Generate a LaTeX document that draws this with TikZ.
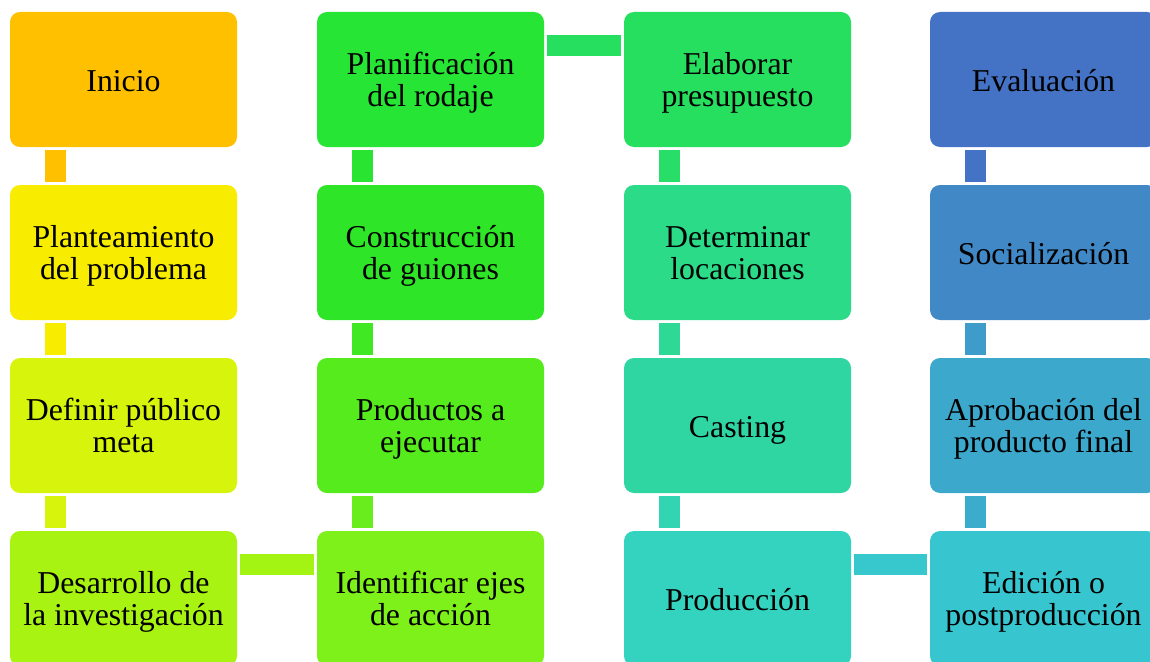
\documentclass[tikz,border=0pt]{standalone}
\usepackage{fontspec}
\setmainfont{Liberation Serif}
\definecolor{cA}{HTML}{FFC000}
\definecolor{cB}{HTML}{F8EC00}
\definecolor{cC}{HTML}{D7F50C}
\definecolor{cD}{HTML}{A9F312}
\definecolor{cE}{HTML}{7EF01A}
\definecolor{cF}{HTML}{55EB1D}
\definecolor{cG}{HTML}{2EE627}
\definecolor{cH}{HTML}{27E535}
\definecolor{cI}{HTML}{27DF5F}
\definecolor{cJ}{HTML}{2BDB88}
\definecolor{cK}{HTML}{30D6A2}
\definecolor{cL}{HTML}{33D3BF}
\definecolor{cM}{HTML}{37C6CF}
\definecolor{cN}{HTML}{3CA8CC}
\definecolor{cO}{HTML}{4189C6}
\definecolor{cP}{HTML}{4472C4}
\newcommand\sst{\rule[-7pt]{0pt}{30pt}}
\tikzset{
  stepbox/.style={rectangle, rounded corners=10pt, minimum width=227pt, minimum height=135pt,
    inner sep=0pt},
  steptext/.style={inner sep=0pt, align=center, text=black,
    font=\fontsize{31.8}{31.8}\selectfont},
  steptexttwo/.style={steptext, yshift=-3pt},
  steptextone/.style={steptext, yshift=-3.5pt},
  bar/.style={line width=21pt, line cap=butt}
}
% two-line step
\newcommand\steptwo[5]{\node[stepbox, fill=#2, label={[steptexttwo]center:{\sst #4\\\sst #5}}] (#1) at #3 {};}
% one-line step
\newcommand\stepone[4]{\node[stepbox, fill=#2, label={[steptextone]center:{\sst #4}}] (#1) at #3 {};}
\begin{document}
\begin{tikzpicture}[x=1pt,y=-1pt]
\useasboundingbox (0,0) rectangle (1150,661);
\clip (0,0) rectangle (1150,661);
% column 1
\stepone{n1}{cA}{(123.5,79.5)}{Inicio}
\steptwo{n2}{cB}{(123.5,252.5)}{Planteamiento}{del problema}
\steptwo{n3}{cC}{(123.5,425.5)}{Definir público}{meta}
\steptwo{n4}{cD}{(123.5,598.5)}{Desarrollo de}{la investigación}
% column 2
\steptwo{n5}{cE}{(430.5,598.5)}{Identificar ejes}{de acción}
\steptwo{n6}{cF}{(430.5,425.5)}{Productos a}{ejecutar}
\steptwo{n7}{cG}{(430.5,252.5)}{Construcción}{de guiones}
\steptwo{n8}{cH}{(430.5,79.5)}{Planificación}{del rodaje}
% column 3
\steptwo{n9}{cI}{(737.5,79.5)}{Elaborar}{presupuesto}
\steptwo{n10}{cJ}{(737.5,252.5)}{Determinar}{locaciones}
\stepone{n11}{cK}{(737.5,425.5)}{Casting}
\stepone{n12}{cL}{(737.5,598.5)}{Producción}
% column 4
\steptwo{n13}{cM}{(1043.5,598.5)}{Edición o}{postproducción}
\steptwo{n14}{cN}{(1043.5,425.5)}{Aprobación del}{producto final}
\stepone{n15}{cO}{(1043.5,252.5)}{Socialización}
\stepone{n16}{cP}{(1043.5,79.5)}{Evaluación}
% vertical connectors (upper node, lower node)
\foreach \u/\l/\c in {n1/n2/cA, n2/n3/cB, n3/n4/cC,
                       n8/n7/cH!70!cG, n7/n6/cG!55!cF, n6/n5/cF!50!cE,
                       n9/n10/cI!75!cJ, n10/n11/cJ!50!cK, n11/n12/cK!45!cL,
                       n16/n15/cP, n15/n14/cO!40!cN, n14/n13/cN!85!cM}
  \draw[bar, draw=\c] ([xshift=45.5pt,yshift=-3pt]\u.south west) -- ([xshift=45.5pt,yshift=3pt]\l.north west);
% horizontal connectors
\draw[bar, draw=cD!85!cE] ([xshift=3pt,yshift=-33.5pt]n4.north east) -- ([xshift=-3pt,yshift=-33.5pt]n5.north west);
\draw[bar, draw=cI] ([xshift=3pt,yshift=-33.5pt]n8.north east) -- ([xshift=-3pt,yshift=-33.5pt]n9.north west);
\draw[bar, draw=cM!85!cL] ([xshift=3pt,yshift=-33.5pt]n12.north east) -- ([xshift=-3pt,yshift=-33.5pt]n13.north west);
\end{tikzpicture}
\end{document}
